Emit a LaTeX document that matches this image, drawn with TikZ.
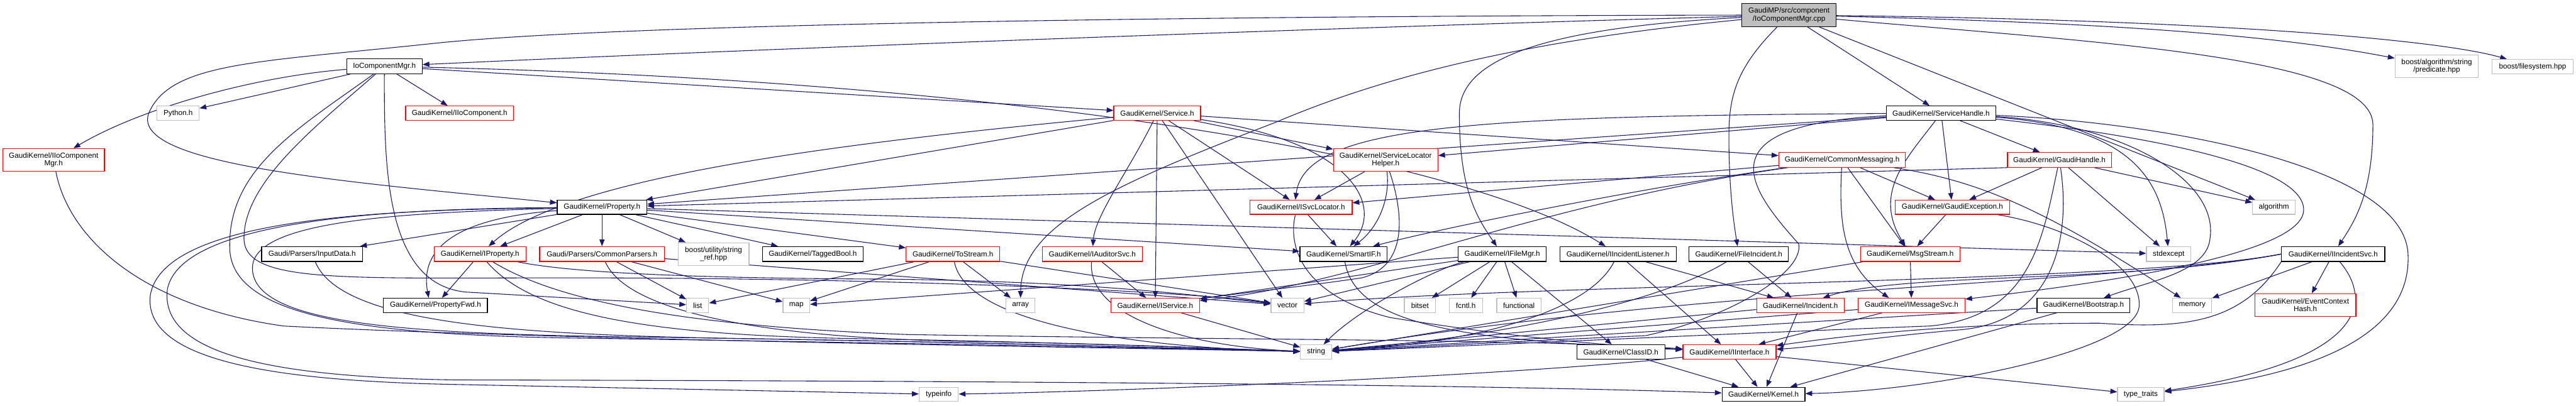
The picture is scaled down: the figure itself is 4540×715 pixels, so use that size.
\documentclass[tikz,border=0pt]{standalone}
\usepackage{fontspec}
\setmainfont{Liberation Sans}
\usetikzlibrary{arrows.meta,calc,backgrounds}
\definecolor{edgec}{HTML}{191970}
\definecolor{redb}{HTML}{FF0000}
\definecolor{greyb}{HTML}{BFBFBF}
\definecolor{rootf}{HTML}{BFBFBF}
\newcommand\mkbox[7]{\node[#2, minimum width={(#5)-(#3)}, minimum height={(#6)-(#4)}] (#1) at ({((#3)+(#5))/2},{((#4)+(#6))/2}) {#7};}
\begin{document}
\begin{tikzpicture}[x=1pt,y=-1pt,
  nb/.style={draw, rectangle, fill=white, inner sep=0pt, align=center, font=\fontsize{13}{13.5}\selectfont, line width=1.3pt},
  rb/.style={nb, draw=redb},
  kb/.style={nb, draw=black},
  gb/.style={nb, draw=greyb},
  rt/.style={nb, draw=black, fill=rootf},
  ed/.style={draw=edgec, line width=1.2pt, -{Triangle[length=12pt,width=9pt]}}]
\useasboundingbox (0,0) rectangle (4540,715);
% nodes
\mkbox{root}{rt}{3070}{6}{3236}{47}{GaudiMP/src/component\\/IoComponentMgr.cpp}
\mkbox{ioh}{kb}{611}{104}{744}{130}{IoComponentMgr.h}
\mkbox{pred}{gb}{4221}{97}{4368}{137}{boost/algorithm/string\\/predicate.hpp}
\mkbox{fs}{gb}{4392}{105}{4535}{130}{boost/filesystem.hpp}
\mkbox{iioc}{rb}{715}{187}{905}{212}{GaudiKernel/IIoComponent.h}
\mkbox{py}{gb}{277}{187}{351}{212}{Python.h}
\mkbox{svc}{rb}{1963}{187}{2116}{212}{GaudiKernel/Service.h}
\mkbox{sh}{kb}{3325}{187}{3517}{212}{GaudiKernel/ServiceHandle.h}
\mkbox{iiocm}{rb}{5}{262}{184}{302}{GaudiKernel/IIoComponent\\Mgr.h}
\mkbox{slh}{rb}{2350}{262}{2534}{302}{GaudiKernel/ServiceLocator\\Helper.h}
\mkbox{cm}{rb}{3135}{269}{3358}{295}{GaudiKernel/CommonMessaging.h}
\mkbox{gh}{rb}{3538}{269}{3721}{295}{GaudiKernel/GaudiHandle.h}
\mkbox{prop}{kb}{982}{353}{1140}{378}{GaudiKernel/Property.h}
\mkbox{isl}{rb}{2203}{353}{2383}{378}{GaudiKernel/ISvcLocator.h}
\mkbox{ge}{rb}{3340}{353}{3542}{378}{GaudiKernel/GaudiException.h}
\mkbox{algo}{gb}{3970}{353}{4045}{378}{algorithm}
\mkbox{indata}{kb}{461}{435}{639}{461}{Gaudi/Parsers/InputData.h}
\mkbox{iprop}{rb}{765}{435}{927}{461}{GaudiKernel/IProperty.h}
\mkbox{cp}{rb}{951}{435}{1171}{461}{Gaudi/Parsers/CommonParsers.h}
\mkbox{sref}{gb}{1195}{428}{1320}{468}{boost/utility/string\\\_ref.hpp}
\mkbox{tb}{kb}{1344}{435}{1521}{461}{GaudiKernel/TaggedBool.h}
\mkbox{tos}{rb}{1597}{435}{1762}{461}{GaudiKernel/ToStream.h}
\mkbox{iaud}{rb}{1837}{435}{2013}{461}{GaudiKernel/IAuditorSvc.h}
\mkbox{smart}{kb}{2291}{435}{2445}{461}{GaudiKernel/SmartIF.h}
\mkbox{ifm}{kb}{2570}{435}{2725}{461}{GaudiKernel/IFileMgr.h}
\mkbox{iil}{kb}{2749}{435}{2954}{461}{GaudiKernel/IIncidentListener.h}
\mkbox{fi}{kb}{2977}{435}{3152}{461}{GaudiKernel/FileIncident.h}
\mkbox{msgs}{rb}{3279}{435}{3454}{461}{GaudiKernel/MsgStream.h}
\mkbox{stdx}{gb}{3783}{435}{3861}{461}{stdexcept}
\mkbox{iis}{kb}{4021}{435}{4203}{461}{GaudiKernel/IIncidentSvc.h}
\mkbox{pfwd}{kb}{676}{526}{859}{551}{GaudiKernel/PropertyFwd.h}
\mkbox{list}{gb}{1210}{526}{1249}{551}{list}
\mkbox{map}{gb}{1380}{526}{1427}{551}{map}
\mkbox{arr}{gb}{1773}{526}{1824}{551}{array}
\mkbox{isvc}{rb}{1958}{526}{2114}{551}{GaudiKernel/IService.h}
\mkbox{vec}{gb}{2240}{526}{2298}{551}{vector}
\mkbox{bitset}{gb}{2475}{526}{2530}{551}{bitset}
\mkbox{fcntl}{gb}{2554}{526}{2613}{551}{fcntl.h}
\mkbox{func}{gb}{2638}{526}{2716}{551}{functional}
\mkbox{incident}{rb}{3096}{526}{3250}{551}{GaudiKernel/Incident.h}
\mkbox{imsg}{rb}{3275}{526}{3463}{551}{GaudiKernel/IMessageSvc.h}
\mkbox{boot}{kb}{3590}{526}{3754}{551}{GaudiKernel/Bootstrap.h}
\mkbox{memory}{gb}{3829}{526}{3898}{551}{memory}
\mkbox{ech}{rb}{3974}{518}{4152}{558}{GaudiKernel/EventContext\\Hash.h}
\mkbox{str}{gb}{2292}{608}{2347}{633}{string}
\mkbox{classid}{kb}{2779}{608}{2934}{633}{GaudiKernel/ClassID.h}
\mkbox{iif}{rb}{2966}{608}{3130}{633}{GaudiKernel/IInterface.h}
\mkbox{typeinfo}{gb}{1620}{683}{1689}{708}{typeinfo}
\mkbox{kernel}{kb}{3035}{683}{3181}{708}{GaudiKernel/Kernel.h}
\mkbox{tt}{gb}{3732}{683}{3814}{708}{type\_traits}
\begin{pgfonlayer}{background}
\fill[white] (0,0) rectangle (4540,715);
% root
\draw[ed] (root) .. controls (2300,50) and (1300,88) .. (ioh);
\draw[ed] (root) .. controls (2200,28) and (1100,40) .. (760,77) .. controls (450,110) and (300,110) .. (262,200) .. controls (230,290) and (600,320) .. (prop);
\draw[ed] (root) -- (sh);
\draw[ed] (root) .. controls (3060,120) and (3047,170) .. (3047,240) .. controls (3047,330) and (3055,390) .. (fi);
\draw[ed] (root) .. controls (2700,50) and (2572,110) .. (2572,200) .. controls (2572,330) and (2600,380) .. (ifm);
\draw[ed] (root) .. controls (2700,70) and (2450,130) .. (2250,215) .. controls (1950,330) and (1800,400) .. (arr);
\draw[ed] (root) .. controls (3700,75) and (4182,100) .. (4182,220) .. controls (4182,340) and (4150,390) .. (iis);
\draw[ed] (root) .. controls (3700,40) and (4000,60) .. (pred);
\draw[ed] (root) .. controls (3900,35) and (4300,70) .. (fs);
\draw[ed] (root) -- (algo);
% IoComponentMgr.h
\draw[ed] (ioh) .. controls (450,135) and (250,190) .. ($(iiocm.north)+(35,0)$);
\draw[ed] (ioh) -- (py);
\draw[ed] (ioh) -- (iioc);
\draw[ed] (ioh) -- (svc);
\draw[ed] (ioh) .. controls (1700,140) and (2550,260) .. (iil);
\draw[ed] (ioh) .. controls (677,300) and (680,500) .. (820,515) -- (list);
\draw[ed] (ioh) .. controls (520,230) and (400,300) .. (405,440) .. controls (410,560) and (650,590) .. (1000,596) .. controls (1600,605) and (2100,615) .. (str);
\draw[ed] (ioh) .. controls (560,220) and (430,320) .. (430,420) .. controls (430,500) and (600,490) .. (1000,490) .. controls (1600,490) and (2100,515) .. (vec);
\draw[ed] (iiocm) .. controls (121,420) and (250,540) .. (500,575) .. controls (1000,600) and (1900,612) .. (str);
% Service.h
\draw[ed] (svc) -- (prop);
\draw[ed] (svc) .. controls (1500,250) and (1000,310) .. (iprop);
\draw[ed] (svc) .. controls (1990,300) and (1930,380) .. (iaud);
\draw[ed] (svc) -- (isvc);
\draw[ed] (svc) -- (vec);
\draw[ed] (svc) -- (isl);
\draw[ed] (svc) -- (slh);
\draw[ed] (svc) -- (cm);
\draw[ed] (svc) .. controls (2380,250) and (2440,360) .. (smart);
% ServiceLocatorHelper / ISvcLocator
\draw[ed] (slh) -- (isl);
\draw[ed] (slh) .. controls (2450,350) and (2430,400) .. (smart);
\draw[ed] (slh) .. controls (2475,380) and (2480,470) .. (2400,490) .. controls (2300,505) and (2200,515) .. (isvc);
\draw[ed] (isl) -- (smart);
\draw[ed] ($(isl.south)+(-10,0)$) .. controls (2270,430) and (2290,520) .. (2450,560) .. controls (2700,600) and (2850,610) .. (iif);
% IProperty
\draw[ed] (iprop) -- (pfwd);
\draw[ed] (iprop) .. controls (930,545) and (1100,590) .. (1500,597) .. controls (1900,604) and (2150,615) .. (str);
\draw[ed] (iprop) .. controls (980,530) and (1200,575) .. (1600,590) .. controls (2200,600) and (2700,598) .. (iif);
\draw[ed] (iprop) .. controls (1000,480) and (1200,490) .. (1520,492) .. controls (1900,494) and (2100,520) .. (vec);
% Property.h
\draw[ed] (prop) -- (iprop);
\draw[ed] (prop) -- (cp);
\draw[ed] (prop) -- (sref);
\draw[ed] (prop) -- (tb);
\draw[ed] (prop) -- (tos);
\draw[ed] (prop) -- (smart);
\draw[ed] (prop) -- (stdx);
\draw[ed] (prop) -- (indata);
\draw[ed] (prop) .. controls (800,385) and (740,440) .. ($(pfwd.north)+(-12,0)$);
\draw[ed] (prop) .. controls (700,370) and (290,380) .. (265,520) .. controls (250,640) and (500,672) .. (800,678) -- (typeinfo);
\draw[ed] (prop) .. controls (700,368) and (320,385) .. (295,510) .. controls (280,630) and (500,665) .. (800,670) .. controls (1800,672) and (2600,678) .. (kernel);
\draw[ed] (prop) .. controls (700,375) and (450,390) .. (445,470) .. controls (440,570) and (700,588) .. (1100,594) .. controls (1700,602) and (2100,615) .. (str);
% CommonParsers, InputData, ToStream
\draw[ed] (cp) .. controls (1100,540) and (1300,595) .. (1700,602) .. controls (2000,607) and (2150,615) .. (str);
\draw[ed] (cp) -- (list);
\draw[ed] (cp) -- (map);
\draw[ed] (cp) -- (vec);
\draw[ed] (indata) .. controls (600,570) and (900,590) .. (1300,597) .. controls (1800,605) and (2100,615) .. (str);
\draw[ed] (tos) -- (list);
\draw[ed] (tos) -- (map);
\draw[ed] (tos) -- (arr);
\draw[ed] (tos) -- (vec);
\draw[ed] (tos) .. controls (1700,560) and (1950,612) .. (str);
% IAuditorSvc, IService, SmartIF
\draw[ed] (iaud) -- (isvc);
\draw[ed] (iaud) .. controls (1915,560) and (2100,612) .. (str);
\draw[ed] (isvc) -- (str);
\draw[ed] (smart) .. controls (2390,580) and (2600,600) .. (iif);
% IFileMgr
\draw[ed] (ifm) -- (isvc);
\draw[ed] (ifm) -- (vec);
\draw[ed] (ifm) -- (bitset);
\draw[ed] (ifm) -- (fcntl);
\draw[ed] (ifm) -- (func);
\draw[ed] (ifm) -- (classid);
\draw[ed] (ifm) .. controls (2540,470) and (2400,540) .. (str);
\draw[ed] (ifm) -- (map);
% IIncidentListener, FileIncident, Incident
\draw[ed] (iil) .. controls (2800,550) and (2600,605) .. (str);
\draw[ed] (iil) -- (iif);
\draw[ed] (iil) -- (incident);
\draw[ed] (fi) -- (incident);
\draw[ed] (fi) .. controls (2950,520) and (2700,590) .. (str);
\draw[ed] (incident) -- (str);
\draw[ed] (incident) -- (kernel);
% MsgStream, IMessageSvc, GaudiException
\draw[ed] (msgs) -- (imsg);
\draw[ed] (msgs) -- (str);
\draw[ed] (imsg) -- (iif);
\draw[ed] (imsg) -- (str);
\draw[ed] (ge) -- (msgs);
\draw[ed] (ge) .. controls (3650,400) and (3775,470) .. (3770,540) .. controls (3765,620) and (3400,690) .. (kernel);
% CommonMessaging
\draw[ed] (cm) .. controls (3240,400) and (3250,470) .. ($(imsg.north)+(-40,0)$);
\draw[ed] (cm) -- (msgs);
\draw[ed] (cm) -- (ge);
\draw[ed] (cm) .. controls (3500,320) and (3620,380) .. (memory);
\draw[ed] (cm) -- (isl);
\draw[ed] (cm) .. controls (2900,330) and (2550,400) .. (smart);
\draw[ed] (cm) .. controls (2700,360) and (2400,500) .. (isvc);
% ServiceHandle
\draw[ed] (sh) .. controls (2600,205) and (2300,220) .. ($(isl.north)+(-10,0)$);
\draw[ed] (sh) -- (slh);
\draw[ed] (sh) -- (prop);
\draw[ed] (sh) -- (gh);
\draw[ed] (sh) -- (ge);
\draw[ed] (sh) .. controls (3360,280) and (3300,340) .. (msgs);
\draw[ed] (sh) .. controls (3700,230) and (4060,280) .. (4060,370) .. controls (4060,450) and (3700,500) .. (imsg);
\draw[ed] (sh) .. controls (3800,215) and (4240,290) .. (4244,450) .. controls (4250,620) and (4000,670) .. (tt);
\draw[ed] (sh) .. controls (3760,225) and (3810,320) .. (stdx);
\draw[ed] (sh) .. controls (3750,220) and (3910,320) .. (3895,420) .. controls (3890,480) and (3790,495) .. (boot);
\draw[ed] (sh) .. controls (3000,220) and (3080,330) .. (3170,430) .. controls (3180,480) and (3050,560) .. (2900,592) .. controls (2600,605) and (2450,615) .. (str);
% GaudiHandle
\draw[ed] (gh.south west) -- (prop);
\draw[ed] (gh) -- (ge);
\draw[ed] (gh) .. controls (3650,420) and (3620,570) .. (3450,582) .. controls (3300,595) and (3200,612) .. (iif);
\draw[ed] (gh) -- (algo);
\draw[ed] (gh) .. controls (3600,420) and (3580,560) .. (3400,575) .. controls (3000,590) and (2600,610) .. (str);
\draw[ed] (gh) -- (stdx);
% IIncidentSvc
\draw[ed] (iis.west) .. controls (3750,500) and (3000,505) .. (str);
\draw[ed] (iis.west) .. controls (3750,500) and (2700,500) .. (vec);
\draw[ed] (iis.west) .. controls (3750,500) and (3350,480) .. (incident);
\draw[ed] (iis) -- (memory);
\draw[ed] (iis) -- (ech);
\draw[ed] (iis.south west) .. controls (3950,570) and (3850,580) .. (3700,570) .. controls (3400,570) and (3200,600) .. (iif);
\draw[ed] (iis) .. controls (4190,540) and (4150,640) .. (tt);
% Bootstrap, IInterface, ClassID
\draw[ed] (boot) -- (str);
\draw[ed] (boot) -- (kernel);
\draw[ed] (iif) -- (kernel);
\draw[ed] (iif) -- (tt);
\draw[ed] (iif) .. controls (2700,660) and (2000,690) .. (typeinfo);
\draw[ed] (classid) -- (kernel);
\end{pgfonlayer}
\end{tikzpicture}
\end{document}
